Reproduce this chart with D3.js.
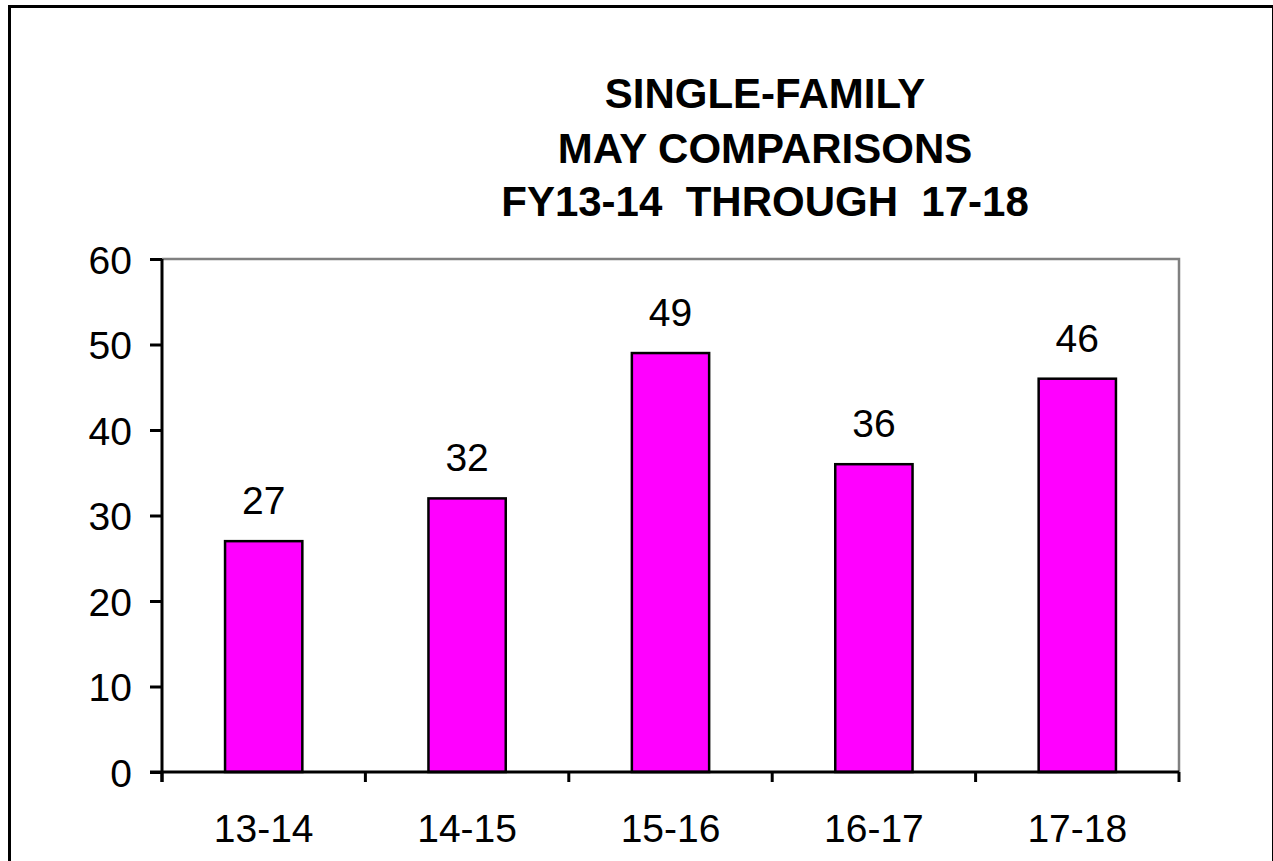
<!DOCTYPE html>
<html><head><meta charset="utf-8">
<script src="https://cdn.jsdelivr.net/npm/d3@7"></script>
<style>html,body{margin:0;padding:0;background:#fff;}svg{display:block;}</style>
</head><body>
<svg id="chart" width="1273" height="861"></svg>
<script>
const categories = ["13-14","14-15","15-16","16-17","17-18"];
const values = [27, 32, 49, 36, 46];
const yTicks = [0,10,20,30,40,50,60];
const titleLines = ["SINGLE-FAMILY","MAY COMPARISONS","FY13-14  THROUGH  17-18"];

const svg = d3.select("#chart");
const font = "Liberation Sans, Arial, sans-serif";
const L = 162, R = 1179, T = 259, B = 772;

// outer border
svg.append("rect").attr("x",9.5).attr("y",6.5).attr("width",1264).attr("height",900)
  .attr("fill","none").attr("stroke","#000").attr("stroke-width",3);

// title
const titleY = [108, 163, 216];
svg.append("g").selectAll("text").data(titleLines).join("text")
  .attr("x",765).attr("y",(d,i)=>titleY[i])
  .attr("text-anchor","middle").style("white-space","pre")
  .attr("font-family",font).attr("font-weight","bold").attr("font-size",42)
  .text(d=>d);

const x = d3.scaleBand().domain(categories).range([L,R]);
const y = d3.scaleLinear().domain([0,60]).range([B,T]);

// plot area gray border (top and right)
svg.append("path").attr("d",`M${L},${T}H${R}V${B}`).attr("fill","none")
  .attr("stroke","#808080").attr("stroke-width",2.5);

// bars
const bw = x.bandwidth()*0.38;
svg.append("g").selectAll("rect").data(values).join("rect")
  .attr("x",(d,i)=>x(categories[i])+x.bandwidth()/2-bw/2)
  .attr("y",d=>y(d)).attr("width",bw).attr("height",d=>B-y(d))
  .attr("fill","#FF00FF").attr("stroke","#000").attr("stroke-width",2.5);

// value labels
svg.append("g").selectAll("text").data(values).join("text")
  .attr("x",(d,i)=>x(categories[i])+x.bandwidth()/2)
  .attr("y",d=>y(d)-27).attr("text-anchor","middle")
  .attr("font-family",font).attr("font-size",39).text(d=>d);

// y axis
const yAxis = d3.axisLeft(y).tickValues(yTicks).tickSize(12).tickPadding(18).tickSizeOuter(0);
const gy = svg.append("g").attr("transform",`translate(${L},0)`).call(yAxis);
gy.select(".domain").remove();
gy.append("line").attr("x1",0).attr("x2",0).attr("y1",T).attr("y2",B+10).attr("stroke","#000").attr("stroke-width",3);
gy.selectAll(".tick line").attr("stroke","#000").attr("stroke-width",3);
gy.selectAll(".tick text").attr("font-family",font).attr("font-size",39).attr("fill","#000").attr("dy","0.36em");

// x axis
const gx = svg.append("g").attr("transform",`translate(0,${B})`);
gx.append("line").attr("x1",L-12).attr("x2",R).attr("y1",0).attr("y2",0).attr("stroke","#000").attr("stroke-width",3);
const bounds = categories.map(c=>x(c)).concat([R]);
gx.selectAll("line.tk").data(bounds).join("line").attr("class","tk")
  .attr("x1",d=>d).attr("x2",d=>d).attr("y1",0).attr("y2",10).attr("stroke","#000").attr("stroke-width",3);
gx.selectAll("text").data(categories).join("text")
  .attr("x",d=>x(d)+x.bandwidth()/2).attr("y",70).attr("text-anchor","middle")
  .attr("font-family",font).attr("font-size",39).text(d=>d);
</script>
</body></html>
